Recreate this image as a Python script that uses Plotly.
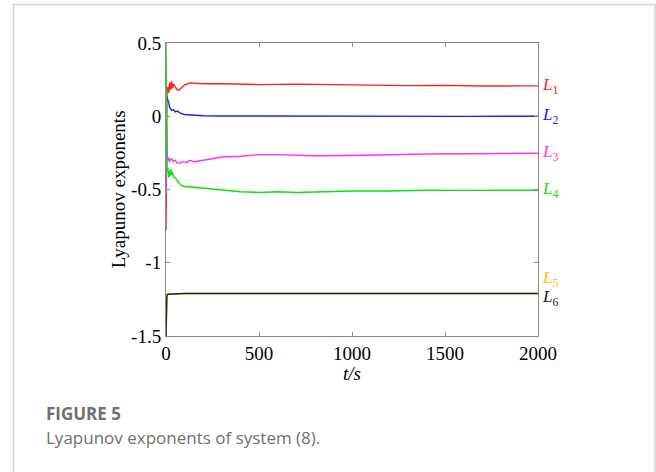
import plotly.graph_objects as go

# ---- data ----
t_L1 = [0, 2, 5, 10, 15, 20, 25, 30, 35, 40, 50, 60, 70, 80, 100, 130, 200, 300, 400, 500, 700, 900, 1100, 1300, 1500, 1700, 1900, 2000]
L1 = [-0.78, -0.1, 0.15, 0.2, 0.16, 0.23, 0.18, 0.24, 0.19, 0.22, 0.2, 0.18, 0.177, 0.19, 0.215, 0.228, 0.222, 0.222, 0.219, 0.216, 0.219, 0.214, 0.211, 0.209, 0.211, 0.206, 0.207, 0.207]

t_L2 = [0, 5, 10, 15, 20, 25, 30, 40, 50, 60, 80, 100, 150, 200, 300, 500, 800, 1200, 1600, 2000]
L2 = [0.15, 0.13, 0.12, 0.09, 0.06, 0.05, 0.04, 0.045, 0.03, 0.035, 0.02, 0.012, 0.006, 0.003, 0.002, 0.001, 0.0, 0.0, -0.001, 0.0]

t_L3 = [0, 3, 8, 12, 16, 20, 25, 30, 40, 50, 60, 75, 90, 110, 130, 150, 200, 250, 300, 400, 500, 600, 800, 1000, 1200, 1400, 1600, 1800, 2000]
L3 = [-0.53, -0.05, -0.3, -0.28, -0.31, -0.29, -0.3, -0.29, -0.31, -0.3, -0.32, -0.32, -0.31, -0.315, -0.3, -0.31, -0.3, -0.29, -0.278, -0.273, -0.262, -0.262, -0.27, -0.268, -0.262, -0.258, -0.256, -0.255, -0.253]

t_L4 = [0, 3, 6, 10, 14, 18, 22, 26, 30, 35, 40, 50, 60, 70, 80, 90, 100, 150, 200, 300, 400, 500, 600, 700, 800, 1000, 1200, 1400, 1600, 1800, 2000]
L4 = [0.5, -0.2, -0.38, -0.35, -0.42, -0.37, -0.41, -0.36, -0.4, -0.38, -0.41, -0.42, -0.44, -0.455, -0.47, -0.475, -0.48, -0.485, -0.49, -0.505, -0.515, -0.52, -0.515, -0.52, -0.515, -0.51, -0.51, -0.505, -0.506, -0.505, -0.505]

t_L5 = [0, 5, 10, 100, 500, 1000, 1500, 2000]
L5 = [-1.5, -1.22, -1.215, -1.21, -1.21, -1.21, -1.21, -1.21]

t_L6 = [0, 5, 10, 100, 500, 1000, 1500, 2000]
L6 = [-1.5, -1.22, -1.215, -1.21, -1.21, -1.21, -1.21, -1.21]

series = [
    ("L1", t_L1, L1, "#ff2020", 0.207),
    ("L2", t_L2, L2, "#2020f0", 0.0),
    ("L3", t_L3, L3, "#ff30ff", -0.25),
    ("L4", t_L4, L4, "#10e010", -0.505),
    ("L5", t_L5, L5, "#ffc000", -1.11),
    ("L6", t_L6, L6, "#202020", -1.24),
]

x_ticks = [0, 500, 1000, 1500, 2000]
y_ticks = [0.5, 0, -0.5, -1, -1.5]
y_tick_text = ["0.5", "0", "-0.5", "-1", "-1.5"]

SERIF = "Liberation Serif, Times New Roman, serif"
SANS = "Open Sans, Noto Sans, sans-serif"

fig = go.Figure()
for name, t, v, col, _ in series:
    fig.add_trace(go.Scatter(x=t, y=v, mode="lines", name=name,
                             line=dict(color=col, width=1.4), showlegend=False))

for name, t, v, col, ylab in series:
    fig.add_annotation(x=1.005, xref="paper", y=ylab, yref="y",
                       text="<i>L</i><sub>%s</sub>" % name[1:], showarrow=False,
                       xanchor="left", yanchor="middle",
                       font=dict(family=SERIF, size=17, color=col))

axis_common = dict(showgrid=False, zeroline=False, showline=True, linecolor="#8a8a8a",
                   linewidth=1, mirror="ticks", ticks="inside", ticklen=4,
                   tickcolor="#8a8a8a", tickfont=dict(family=SERIF, size=19, color="#000"))

fig.update_xaxes(range=[0, 2000], tickvals=x_ticks, **axis_common)
fig.update_yaxes(range=[-1.5, 0.5], tickvals=y_ticks, ticktext=y_tick_text, **axis_common)

# axis titles
fig.add_annotation(x=-0.127, xref="paper", y=0.5, yref="paper", text="Lyapunov exponents",
                   textangle=-90, showarrow=False, xanchor="center", yanchor="middle",
                   font=dict(family=SERIF, size=19, color="#000"))
fig.add_annotation(x=0.5, xref="paper", y=-0.128, yref="paper", text="<i>t/s</i>",
                   showarrow=False, xanchor="center", yanchor="middle",
                   font=dict(family=SERIF, size=19, color="#000"))

# caption
fig.add_annotation(x=(44 - 166) / 372, xref="paper", y=(336 - 413) / 293, yref="paper",
                   text="<b>FIGURE 5</b>", showarrow=False, xanchor="left", yanchor="middle",
                   font=dict(family=SANS, size=17, color="#707070"))
fig.add_annotation(x=(44 - 166) / 372, xref="paper", y=(336 - 437) / 293, yref="paper",
                   text="Lyapunov exponents of system (8).", showarrow=False,
                   xanchor="left", yanchor="middle",
                   font=dict(family=SANS, size=17, color="#707070"))

# card border
fig.add_shape(type="path", xref="paper", yref="paper",
              path="M %f %f L %f %f L %f %f L %f %f" % (
                  (13.5 - 166) / 372, (336 - 500) / 293,
                  (13.5 - 166) / 372, (336 - 4.5) / 293,
                  (655 - 166) / 372, (336 - 4.5) / 293,
                  (655 - 166) / 372, (336 - 500) / 293),
              line=dict(color="#d4d4d4", width=1.5))

fig.update_layout(width=656, height=472, margin=dict(l=166, r=118, t=43, b=136),
                  paper_bgcolor="white", plot_bgcolor="white")

fig.write_html("out.html")
